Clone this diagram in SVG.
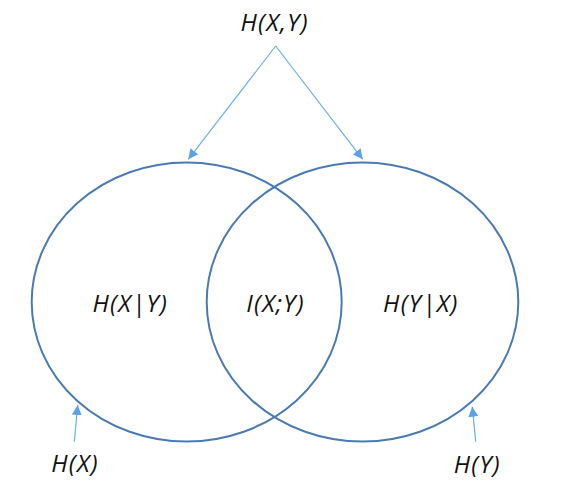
<svg xmlns="http://www.w3.org/2000/svg" width="586" height="501" viewBox="0 0 586 501">
<style>
.set{fill:none;stroke:#4a7ab3;stroke-width:2}
.arr{fill:none;stroke:#6aaeea;stroke-width:1.2}
.lbl{font-family:"Open Sans","Liberation Sans",sans-serif;font-style:italic;font-size:24px;letter-spacing:1.3px;fill:#111;text-anchor:middle}
</style>
<defs>
<marker id="ah" viewBox="0 0 10 10" refX="10" refY="5" markerWidth="10" markerHeight="10" markerUnits="userSpaceOnUse" orient="auto">
<path d="M0,0 L10,5 L0,10 Z" fill="#5aa3e8"/>
</marker>
</defs>
<rect width="586" height="501" fill="#fff"/>
<g id="setX">
<ellipse class="set" cx="186.7" cy="302" rx="155" ry="139.5"/>
<text class="lbl" x="130.3" y="312">H(X|Y)</text>
</g>
<g id="setY">
<ellipse class="set" cx="362.5" cy="302" rx="155.8" ry="139.5"/>
<text class="lbl" x="420.9" y="312">H(Y|X)</text>
</g>
<g id="mi">
<text class="lbl" x="275.6" y="312">I(X;Y)</text>
</g>
<g id="hxy">
<text class="lbl" x="274.6" y="31">H(X,Y)</text>
</g>
<g id="hx">
<text class="lbl" x="75.1" y="472">H(X)</text>
</g>
<g id="hy">
<text class="lbl" x="477.3" y="473">H(Y)</text>
</g>
<g id="connectors">
<line class="arr" x1="275.7" y1="46" x2="188.3" y2="159.3" marker-end="url(#ah)"/>
<line class="arr" x1="275.7" y1="46" x2="362.7" y2="159.3" marker-end="url(#ah)"/>
<line class="arr" x1="74.3" y1="441.7" x2="77.7" y2="405" marker-end="url(#ah)"/>
<line class="arr" x1="475.7" y1="441.7" x2="472.3" y2="406.7" marker-end="url(#ah)"/>
</g>
</svg>
